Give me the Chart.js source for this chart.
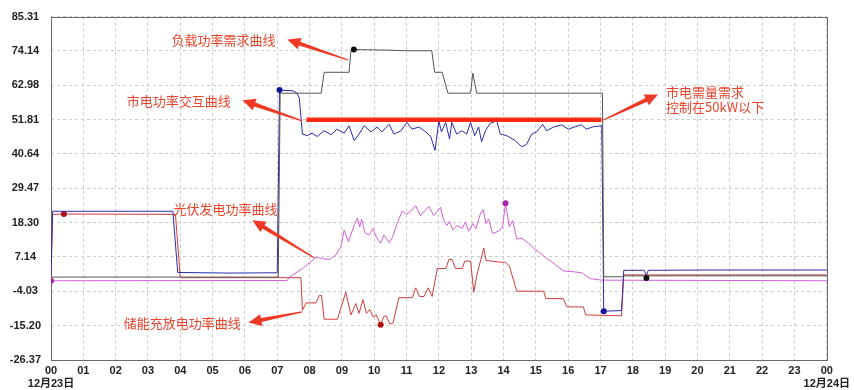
<!DOCTYPE html>
<html>
<head>
<meta charset="utf-8">
<script src="https://cdn.jsdelivr.net/npm/chart.js@4.4.0/dist/chart.umd.min.js"></script>
<style>
  html, body { margin: 0; padding: 0; background: #fff; }
  canvas { display: block; }
</style>
</head>
<body>
<canvas id="powerChart" width="854" height="390"></canvas>
<script>
// axis ticks
const hourLabels = ['00','01','02','03','04','05','06','07','08','09','10','11',
                    '12','13','14','15','16','17','18','19','20','21','22','23','00'];
const dateLabels = ['12月23日', '12月24日'];
const yTicks = [85.31, 74.14, 62.98, 51.81, 40.64, 29.47, 18.30, 7.14, -4.03, -15.20, -26.37];

// 负载功率需求
const loadHours = [0, 7.03, 7.09, 8.36, 8.45, 9.22, 9.28, 9.37, 10.4, 11.0, 11.78, 11.87, 12.1,
                   12.28, 12.98, 13.05, 13.17, 17.06, 17.10, 17.65, 17.72, 18.35, 18.42, 18.48, 24];
const loadValues = [0.6, 0.6, 60.4, 60.4, 67.2, 67.2, 74.3, 74.6, 74.4, 74.2, 74.2, 67.2, 67.2,
                    60.4, 60.4, 66.9, 60.4, 60.4, 0.7, 0.7, 1.0, 1.0, 0.3, 1.0, 1.0];

// 市电功率交互
const gridHours = [0, 0.05, 3.77, 3.92, 5.5, 7.0, 7.07, 7.47, 7.6, 7.68, 7.78, 7.93, 8.08, 8.24,
                   8.45, 8.67, 8.85, 9.07, 9.22, 9.38, 9.53, 9.69, 9.90, 10.09, 10.24, 10.46, 10.61,
                   10.83, 11.01, 11.17, 11.38, 11.60, 11.75, 11.88, 12.00, 12.08, 12.21, 12.33, 12.40,
                   12.55, 12.71, 12.86, 12.98, 13.11, 13.23, 13.32, 13.44, 13.59, 13.79, 13.90, 14.10,
                   14.36, 14.56, 14.71, 14.87, 15.02, 15.21, 15.33, 15.55, 15.79, 16.01, 16.22, 16.41,
                   16.56, 16.78, 17.04, 17.10, 17.65, 17.72, 18.35, 18.42, 18.48, 20.5, 24];
const gridValues = [1.0, 22.0, 22.0, 2.1, 1.9, 2.0, 61.4, 61.2, 60.5, 58.9, 47.1, 46.6, 47.4, 46.3,
                    48.2, 46.9, 48.7, 47.4, 49.8, 45.0, 47.1, 49.8, 47.8, 49.4, 47.8, 50.3, 47.1,
                    48.2, 50.9, 48.7, 49.4, 47.8, 46.2, 41.8, 51.4, 47.8, 50.9, 45.5, 50.9,
                    47.1, 48.2, 47.1, 50.9, 46.6, 49.4, 44.6, 48.2, 50.6, 51.4, 47.1, 46.6,
                    45.0, 43.0, 43.7, 47.1, 47.8, 50.3, 48.2, 49.4, 50.1, 48.7, 49.5, 50.1,
                    48.7, 49.5, 49.8, -10.5, -10.3, 2.8, 2.8, 1.2, 2.8, 2.9, 2.9];

// 光伏发电功率
const pvHours = [0, 7.31, 7.37, 7.78, 8.20, 8.40, 8.61, 8.81, 8.97, 9.07, 9.20, 9.38, 9.48, 9.55,
                 9.61, 9.72, 9.84, 9.96, 10.06, 10.20, 10.30, 10.46, 10.56, 10.71, 10.87, 10.97,
                 11.10, 11.28, 11.43, 11.69, 11.84, 12.05, 12.15, 12.25, 12.33, 12.43, 12.56, 12.72,
                 12.82, 12.92, 13.05, 13.15, 13.28, 13.37, 13.46, 13.54, 13.66, 13.85, 13.97, 14.06,
                 14.18, 14.28, 14.41, 14.57, 14.77, 14.98, 15.08, 15.29, 15.60, 15.85, 16.11, 16.42,
                 16.68, 17.04, 24];
const pvValues = [-0.6, -0.5, 0.5, 3.4, 7.0, 6.6, 6.3, 7.7, 10.5, 15.9, 12.1, 17.4, 19.8, 16.9,
                  19.4, 14.8, 14.3, 16.4, 13.7, 11.6, 14.3, 11.8, 13.4, 18.0, 22.2, 21.1,
                  21.7, 23.8, 20.6, 23.6, 20.6, 23.3, 19.0, 17.4, 18.7, 15.9, 17.4, 16.4,
                  18.5, 15.5, 18.0, 16.4, 21.1, 22.5, 18.0, 19.5, 14.8, 15.5, 16.9, 24.6,
                  16.9, 19.0, 13.0, 13.2, 11.6, 9.5, 8.9, 7.0, 4.7, 2.6, 2.4, 2.0,
                  0.1, -0.4, -0.6];

// 储能充放电功率
const storeHours = [0, 0.05, 0.4, 3.85, 4.0, 7.73, 7.78, 7.89, 8.20, 8.30, 8.37, 8.45, 8.86, 9.12,
                    9.28, 9.43, 9.53, 9.65, 9.76, 9.86, 9.96, 10.06, 10.20, 10.30, 10.37, 10.48,
                    10.58, 10.76, 11.18, 11.28, 11.40, 11.54, 11.67, 11.79, 11.95, 12.22, 12.31,
                    12.41, 12.51, 12.72, 12.80, 12.98, 13.08, 13.18, 13.39, 13.46, 13.95, 14.06,
                    14.18, 14.41, 15.24, 15.31, 15.85, 15.96, 16.47, 16.54, 17.65, 17.72, 24];
const storeValues = [0.5, 21.0, 21.1, 21.0, 0.4, 0.4, -10.2, -7.8, -7.8, -5.4, -5.4, -13.1, -13.1, -4.3,
                     -11.7, -8.0, -11.2, -6.8, -11.2, -9.9, -12.3, -11.7, -14.9, -12.1, -12.1, -14.6,
                     -14.4, -6.1, -6.1, -2.9, -5.7, -5.7, -2.9, -5.7, 3.4, 3.4, 6.3,
                     6.3, 3.4, 3.4, 5.8, 5.8, -4.3, 1.5, 10.0, 6.0, 5.4, 5.4,
                     4.2, -4.0, -4.0, -6.4, -6.4, -9.1, -9.1, -11.7, -12.0, 1.3, 1.3];

// 需量控制线 (50kW)
const limitHours = [7.9, 17.03];
const limitValues = [51.8, 51.8];

// callouts: text anchor and arrow, in hours / kW
const notes = [
  { lines: ['负载功率需求曲线'], at: [5.34, 77.6], align: 'center', from: [9.19, 71.2], to: [7.31, 77.9] },
  { lines: ['市电功率交互曲线'], at: [3.95, 57.8], align: 'center', from: [7.77, 51.4], to: [5.92, 58.1] },
  { lines: ['市电需量需求', '控制在50kW以下'], at: [19.03, 60.7], align: 'left', from: [17.09, 51.7], to: [18.78, 60.0] },
  { lines: ['光伏发电功率曲线'], at: [5.40, 22.6], align: 'center', from: [8.14, 6.9], to: [6.23, 19.1] },
  { lines: ['储能充放电功率曲线'], at: [4.06, -14.5], align: 'center', from: [7.77, -10.7], to: [6.11, -14.2] }
];

function toPoints(xs, ys) {
  return xs.map((x, i) => ({ x: x, y: ys[i] }));
}

// max / min get a dot, like the original trend viewer
function extremes(ys) {
  let hi = 0, lo = 0;
  ys.forEach((v, i) => {
    if (v > ys[hi]) hi = i;
    if (v < ys[lo]) lo = i;
  });
  return [hi, lo];
}

function series(label, xs, ys, color, dotColor) {
  const marks = extremes(ys);
  return {
    label: label,
    data: toPoints(xs, ys),
    borderColor: color,
    borderWidth: 1,
    tension: 0,
    pointRadius: c => marks.includes(c.dataIndex) ? 3 : 0,
    pointBackgroundColor: dotColor,
    pointBorderColor: dotColor,
    pointBorderWidth: 0
  };
}

function drawArrow(ctx, x1, y1, x2, y2) {
  const a = Math.atan2(y2 - y1, x2 - x1);
  const len = Math.hypot(x2 - x1, y2 - y1);
  const hl = 13, hw = 6;
  ctx.save();
  ctx.translate(x1, y1);
  ctx.rotate(a);
  ctx.beginPath();
  ctx.moveTo(0, -0.6);
  ctx.lineTo(len - hl, -2);
  ctx.lineTo(len - hl, -hw);
  ctx.lineTo(len, 0);
  ctx.lineTo(len - hl, hw);
  ctx.lineTo(len - hl, 2);
  ctx.lineTo(0, 0.6);
  ctx.closePath();
  ctx.fill();
  ctx.restore();
}

const framePlugin = {
  id: 'frame',
  beforeDatasetsDraw(chart) {
    const { ctx, chartArea: a } = chart;
    ctx.save();
    ctx.strokeStyle = '#6a6a6a';
    ctx.lineWidth = 1;
    ctx.strokeRect(Math.round(a.left) + 0.5, Math.round(a.top) + 0.5,
                   Math.round(a.right - a.left), Math.round(a.bottom - a.top));
    ctx.restore();
  },
  afterDatasetsDraw(chart) {
    const { ctx, scales: { x, y } } = chart;
    ctx.save();
    ctx.fillStyle = '#ee3a24';
    notes.forEach(n => {
      drawArrow(ctx, x.getPixelForValue(n.from[0]), y.getPixelForValue(n.from[1]),
                x.getPixelForValue(n.to[0]), y.getPixelForValue(n.to[1]));
    });
    ctx.fillStyle = '#e8452c';
    ctx.font = '13px "Noto Sans CJK SC"';
    ctx.textBaseline = 'middle';
    notes.forEach(n => {
      ctx.textAlign = n.align;
      n.lines.forEach((line, k) => {
        ctx.fillText(line, x.getPixelForValue(n.at[0]), y.getPixelForValue(n.at[1]) + k * 15);
      });
    });
    ctx.restore();
  }
};

const tickFont = { family: '"Liberation Sans", "Noto Sans CJK SC"', size: 11, weight: 'bold' };

new Chart(document.getElementById('powerChart'), {
  type: 'line',
  data: {
    datasets: [
      {
        label: 'limit',
        data: toPoints(limitHours, limitValues),
        borderColor: '#ff2a14',
        borderWidth: 4.5,
        pointRadius: 0
      },
      series('负载功率需求', loadHours, loadValues, '#555555', '#111111'),
      series('市电功率交互', gridHours, gridValues, '#2b2bb0', '#14149a'),
      series('光伏发电功率', pvHours, pvValues, '#d35fd8', '#a626a6'),
      series('储能充放电功率', storeHours, storeValues, '#d23c3c', '#b01212')
    ]
  },
  options: {
    responsive: false,
    devicePixelRatio: 1,
    animation: false,
    layout: { padding: { top: 11, right: 25, left: 0, bottom: 0 } },
    plugins: { legend: { display: false }, tooltip: { enabled: false } },
    scales: {
      x: {
        type: 'linear',
        min: 0,
        max: 24,
        afterFit: s => { s.height = 30; },
        grid: { color: '#cccccc', drawTicks: false },
        border: { display: false, dash: [3, 3] },
        ticks: {
          stepSize: 1,
          autoSkip: false,
          maxRotation: 0,
          padding: 4,
          color: '#222',
          font: tickFont,
          callback: v => {
            if (v === 0) return [hourLabels[0], dateLabels[0]];
            if (v === 24) return [hourLabels[24], dateLabels[1]];
            return hourLabels[v];
          }
        }
      },
      y: {
        type: 'linear',
        min: -26.37,
        max: 85.31,
        afterFit: s => { s.width = 51; },
        afterBuildTicks: s => { s.ticks = yTicks.map(v => ({ value: v })); },
        grid: { color: '#cccccc', drawTicks: false },
        border: { display: false, dash: [3, 3] },
        ticks: {
          padding: 10,
          crossAlign: 'center',
          color: '#222',
          font: tickFont,
          callback: v => v.toFixed(2)
        }
      }
    }
  },
  plugins: [framePlugin]
});
</script>
</body>
</html>
